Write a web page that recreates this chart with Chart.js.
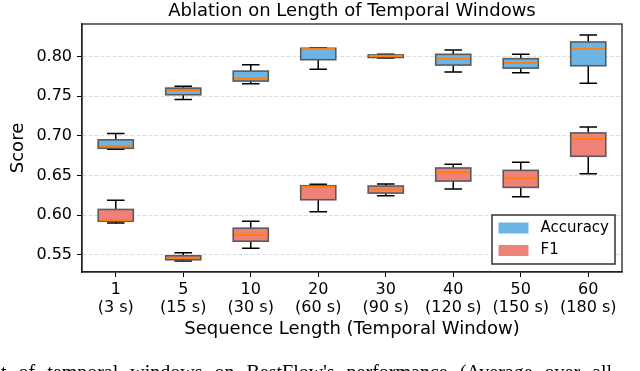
<!DOCTYPE html>
<html>
<head>
<meta charset="utf-8">
<script src="https://cdn.jsdelivr.net/npm/chart.js@4"></script>
<style>
html,body{margin:0;padding:0;background:#fff;overflow:hidden}
#wrap{position:relative;width:640px;height:371px;overflow:hidden}
#c{position:absolute;left:0;top:0}
#caption{position:absolute;left:1px;top:362px;font-family:"Liberation Serif",serif;font-size:20px;line-height:20px;white-space:nowrap;word-spacing:7px;color:#000}
</style>
</head>
<body>
<div id="wrap">
<canvas id="c" width="640" height="371"></canvas>
<div id="caption">t of temporal windows on BestFlow's performance (Average over all</div>
</div>
<script>
// ---- data ----
const categories = ['1', '5', '10', '20', '30', '40', '50', '60'];
const durations = ['(3 s)', '(15 s)', '(30 s)', '(60 s)', '(90 s)', '(120 s)', '(150 s)', '(180 s)'];
const seriesNames = ['Accuracy', 'F1'];

const accMin = [0.6830, 0.7459, 0.7658, 0.7840, 0.7983, 0.7806, 0.7797, 0.7666];
const accQ1  = [0.6843, 0.7519, 0.7692, 0.7962, 0.7990, 0.7894, 0.7856, 0.7886];
const accMed = [0.6868, 0.7578, 0.7725, 0.8101, 0.8008, 0.7975, 0.7920, 0.8101];
const accQ3  = [0.6950, 0.7603, 0.7818, 0.8106, 0.8022, 0.8030, 0.7975, 0.8186];
const accMax = [0.7031, 0.7628, 0.7899, 0.8114, 0.8032, 0.8084, 0.8030, 0.8274];

const f1Min = [0.5900, 0.5418, 0.5580, 0.6040, 0.6243, 0.6328, 0.6230, 0.6522];
const f1Q1  = [0.5922, 0.5435, 0.5669, 0.6193, 0.6277, 0.6429, 0.6349, 0.6742];
const f1Med = [0.5936, 0.5458, 0.5749, 0.6357, 0.6323, 0.6539, 0.6467, 0.6961];
const f1Q3  = [0.6070, 0.5485, 0.5833, 0.6370, 0.6366, 0.6594, 0.6564, 0.7037];
const f1Max = [0.6188, 0.5522, 0.5922, 0.6387, 0.6391, 0.6640, 0.6666, 0.7113];

const yTicks = [0.55, 0.60, 0.65, 0.70, 0.75, 0.80];
const yMin = 0.5280, yMax = 0.8413;

// ---- styles ----
const accColor = '#6cb4e4';
const f1Color = '#f08178';
const FONT = 'DejaVu Sans';

const stats = [
  {min: accMin, q1: accQ1, med: accMed, q3: accQ3, max: accMax},
  {min: f1Min, q1: f1Q1, med: f1Med, q3: f1Q3, max: f1Max}
];

const boxPlugin = {
  id: 'boxes',
  afterDatasetsDraw(chart) {
    const ctx = chart.ctx;
    const ys = chart.scales.y;
    ctx.save();
    chart.data.datasets.forEach((ds, di) => {
      const meta = chart.getDatasetMeta(di);
      const s = stats[di];
      meta.data.forEach((el, i) => {
        const p = el.getProps(['x', 'y', 'base', 'width'], true);
        const half = p.width / 2;
        const cap = p.width / 4;
        const yQ1 = ys.getPixelForValue(s.q1[i]);
        const yQ3 = ys.getPixelForValue(s.q3[i]);
        const yMinP = ys.getPixelForValue(s.min[i]);
        const yMaxP = ys.getPixelForValue(s.max[i]);
        const yMed = ys.getPixelForValue(s.med[i]);
        ctx.strokeStyle = '#000';
        ctx.lineWidth = 1.5;
        ctx.beginPath();
        ctx.moveTo(p.x, yQ3); ctx.lineTo(p.x, yMaxP);
        ctx.moveTo(p.x - cap, yMaxP); ctx.lineTo(p.x + cap, yMaxP);
        ctx.moveTo(p.x, yQ1); ctx.lineTo(p.x, yMinP);
        ctx.moveTo(p.x - cap, yMinP); ctx.lineTo(p.x + cap, yMinP);
        ctx.stroke();
        ctx.strokeStyle = '#5a5a5a';
        ctx.lineWidth = 1.6;
        ctx.strokeRect(p.x - half, Math.min(yQ1, yQ3), p.width, Math.abs(yQ1 - yQ3));
        ctx.strokeStyle = '#ff7f0e';
        ctx.lineWidth = 2;
        ctx.beginPath();
        ctx.moveTo(p.x - half + 0.8, yMed); ctx.lineTo(p.x + half - 0.8, yMed);
        ctx.stroke();
      });
    });
    ctx.restore();
  },
  afterDraw(chart) {
    const ctx = chart.ctx;
    const a = chart.chartArea;
    ctx.save();
    ctx.strokeStyle = '#222';
    ctx.lineWidth = 1.3;
    ctx.strokeRect(a.left, a.top, a.right - a.left, a.bottom - a.top);
    const lw = 123, lh = 49;
    const lx = a.right - 7 - lw, ly = a.bottom - 8 - lh;
    ctx.fillStyle = '#fff';
    ctx.fillRect(lx, ly, lw, lh);
    ctx.strokeStyle = '#333';
    ctx.lineWidth = 1.5;
    ctx.strokeRect(lx, ly, lw, lh);
    ctx.font = '15px "' + FONT + '"';
    ctx.textBaseline = 'middle';
    ctx.textAlign = 'left';
    chart.data.datasets.forEach((ds, di) => {
      const cy = ly + 13 + di * 22.5;
      ctx.fillStyle = ds.backgroundColor;
      ctx.fillRect(lx + 6.5, cy - 5.5, 30, 11);
      ctx.fillStyle = '#000';
      ctx.fillText(ds.label, lx + 48.5, cy);
    });
    ctx.restore();
  }
};

Chart.defaults.color = '#000';
Chart.defaults.font.family = FONT;

new Chart(document.getElementById('c'), {
  type: 'bar',
  data: {
    labels: categories.map((c, i) => [c, durations[i]]),
    datasets: [
      {label: seriesNames[0], data: accQ1.map((q, i) => [q, accQ3[i]]), backgroundColor: accColor,
       borderWidth: 0, grouped: false, categoryPercentage: 1, barPercentage: 0.52},
      {label: seriesNames[1], data: f1Q1.map((q, i) => [q, f1Q3[i]]), backgroundColor: f1Color,
       borderWidth: 0, grouped: false, categoryPercentage: 1, barPercentage: 0.52}
    ]
  },
  options: {
    responsive: false,
    animation: false,
    devicePixelRatio: 1,
    layout: {padding: {left: 0, right: 18, top: 0, bottom: 30.7}},
    plugins: {
      legend: {display: false},
      tooltip: {enabled: false},
      title: {
        display: true,
        fullSize: false,
        text: 'Ablation on Length of Temporal Windows',
        font: {family: FONT, size: 18, weight: 'normal'},
        color: '#000',
        padding: {top: 0.2, bottom: 2.2}
      }
    },
    scales: {
      x: {
        type: 'category',
        offset: true,
        grid: {display: true, drawOnChartArea: false, drawTicks: true, tickLength: 5, tickColor: '#000', offset: false},
        border: {display: true, color: '#222', width: 1.3},
        ticks: {font: {family: FONT, size: 16, lineHeight: 1.18}, color: '#000', padding: 3, maxRotation: 0, autoSkip: false},
        title: {display: true, text: 'Sequence Length (Temporal Window)', font: {family: FONT, size: 18}, color: '#000', padding: {top: 0, bottom: 0}},
        afterFit(s) { s.height = 68.3; }
      },
      y: {
        min: yMin,
        max: yMax,
        grid: {display: true, drawOnChartArea: true, drawTicks: true, color: '#dedede', lineWidth: 1, tickLength: 5, tickColor: '#000'},
        border: {display: true, color: '#222', width: 1.3, dash: [4, 2]},
        ticks: {font: {family: FONT, size: 16}, color: '#000', padding: 5, callback: v => Number(v).toFixed(2)},
        afterBuildTicks(s) { s.ticks = yTicks.map(v => ({value: v})); },
        title: {display: true, text: 'Score', font: {family: FONT, size: 18}, color: '#000', padding: {top: 7.5, bottom: 0}},
        afterFit(s) { s.width = 82; }
      }
    }
  },
  plugins: [boxPlugin]
});
</script>
</body>
</html>
